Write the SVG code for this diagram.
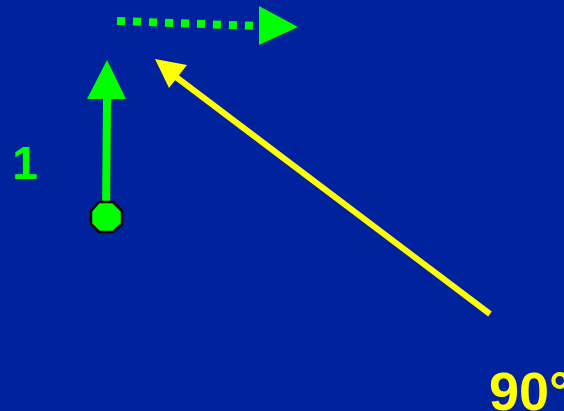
<svg xmlns="http://www.w3.org/2000/svg" width="564" height="411" viewBox="0 0 564 411">
<style>
.g{fill:#00FF00}
.y{fill:#FFFF00}
.lbl{font-family:"Liberation Sans",Arial,sans-serif;font-weight:bold}
</style>
<rect width="564" height="411" fill="#00229C"/>
<g id="connectors">
<path d="M117,21 L259,26" stroke="#00FF00" stroke-width="8" stroke-dasharray="8 8" fill="none"/>
<polygon class="g" points="259,6 298,27 259,45"/>
<path d="M106,217 L107,98" stroke="#00FF00" stroke-width="8" fill="none"/>
<polygon class="g" points="107,60 126,99 87,99"/>
<path d="M490,314 L176,77" stroke="#FFFF00" stroke-width="6" fill="none"/>
<polygon class="y" points="155,59 187,65 169,88"/>
</g>
<g id="node-start">
<polygon points="99,202 113,202 122,211 122,224 113,232 99,232 91,224 91,211" fill="#00FF00" stroke="#000" stroke-width="2.5"/>
</g>
<g id="label-1">
<text class="lbl g" x="25" y="179" font-size="46" text-anchor="middle">1</text>
</g>
<g id="label-90">
<text class="lbl y" x="489" y="410" font-size="54">90°</text>
</g>
</svg>
